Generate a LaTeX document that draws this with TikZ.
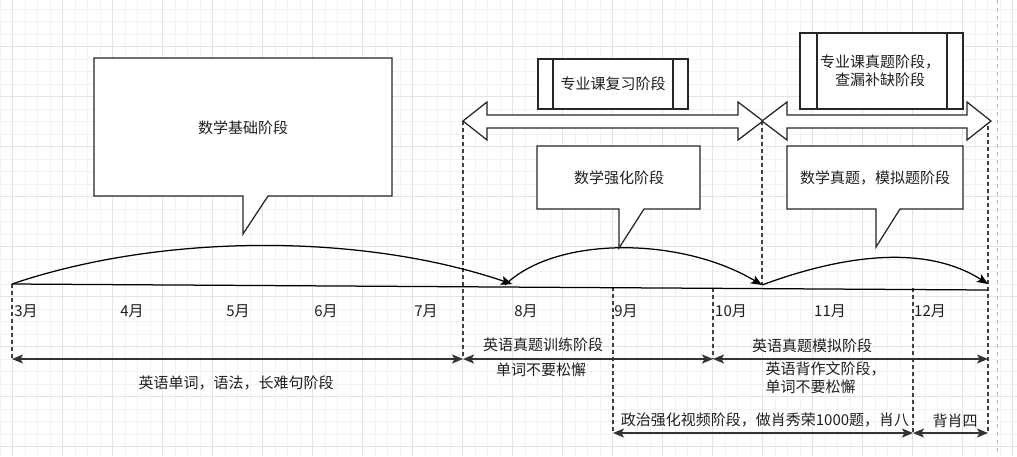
\documentclass[tikz,border=0pt]{standalone}
\usepackage{fontspec}
\setmainfont{Noto Sans CJK SC}
\usetikzlibrary{arrows.meta}
\begin{document}
\begin{tikzpicture}[x=1pt,y=-1pt,line width=1.25pt,
  >={Stealth[length=11pt,width=9pt,inset=2.5pt]},
  every node/.style={inner sep=0pt, font=\fontsize{15}{18}\selectfont, text=black!88},
  gminor/.style={draw=black!5, line width=1pt},
  gmajor/.style={draw=black!11, line width=1pt},
  vdash/.style={draw=black!75, line width=1.25pt, dash pattern=on 4pt off 3pt},
  shapeline/.style={draw=black!85, fill=white, line width=1.25pt},
  axisline/.style={draw=black, line width=1.25pt},
  span/.style={draw=black!80, line width=1.25pt, <->},
  arc/.style={draw=black, line width=1.25pt, ->},
]
\useasboundingbox (0,0) rectangle (1017,456);
% background grid
\fill[white] (0,0) rectangle (1017,456);
\foreach \i in {0,...,81} { \draw[gminor] (\i*12.5,0) -- (\i*12.5,456); }
\foreach \i in {0,...,35} { \draw[gminor] (0,9+\i*12.5) -- (1017,9+\i*12.5); }
\foreach \i in {0,...,20} { \draw[gmajor] (12.5+\i*50,0) -- (12.5+\i*50,456); }
\foreach \i in {0,...,8} { \draw[gmajor] (0,46.5+\i*50) -- (1017,46.5+\i*50); }
\draw[draw=black!25, line width=1pt, dash pattern=on 4pt off 4pt] (997,0) -- (997,456);

% key coordinates
\coordinate (tl0) at (12,284);
\coordinate (tl1) at (988,290);
\coordinate (m3bot) at (12,359);
\coordinate (a8top) at (463,121);
\coordinate (a8bot) at (463,359);
\coordinate (m9top) at (613,287);
\coordinate (m9bot) at (613,433);
\coordinate (m10top) at (713,288);
\coordinate (m10bot) at (713,359);
\coordinate (m11top) at (762,121);
\coordinate (m11bot) at (762,285);
\coordinate (m12top) at (913,288);
\coordinate (m12bot) at (913,433);
\coordinate (endtop) at (988,126);
\coordinate (endmid) at (988,359);
\coordinate (endbot) at (988,433);
\coordinate (arc1e) at (512,284);
\coordinate (arc2s) at (505,285);
\coordinate (arc3e) at (988,284);

% dashed verticals
\draw[vdash] (tl0) -- (m3bot);
\draw[vdash] (a8top) -- (a8bot);
\draw[vdash] (m9top) -- (m9bot);
\draw[vdash] (m10top) -- (m10bot);
\draw[vdash] (m11top) -- (m11bot);
\draw[vdash] (m12top) -- (m12bot);
\draw[vdash] (endtop) -- (endbot);

% timeline
\draw[axisline] (tl0) -- (tl1);

% arcs
\draw[arc] (tl0) .. controls (162,233) and (362,233) .. (arc1e);
\draw[arc] (arc2s) .. controls (555,236) and (680,236) .. (m11bot);
\draw[arc] (m11bot) .. controls (862,248) and (935,250) .. (arc3e);

% callouts
\draw[shapeline] (94,58) -- (392,58) -- (392,196) -- (268,196) -- (243,234) -- (243,196) -- (94,196) -- cycle;
\node (c1) at (243,128) {数学基础阶段};
\draw[shapeline] (537,146) -- (700,146) -- (700,209) -- (644,209) -- (619,248) -- (619,209) -- (537,209) -- cycle;
\node (c2) at (619,178) {数学强化阶段};
\draw[shapeline] (787,146) -- (963,146) -- (963,209) -- (900,209) -- (876,247) -- (876,209) -- (787,209) -- cycle;
\node (c3) at (875,178) {数学真题，模拟题阶段};

% flex arrows
\draw[shapeline] (463,121) -- (487,102) -- (487,115) -- (738,115) -- (738,102) -- (763,121) -- (738,140) -- (738,128) -- (487,128) -- (487,140) -- cycle;
\draw[shapeline] (762,121) -- (787,102) -- (787,115) -- (967,115) -- (967,102) -- (991,121) -- (967,140) -- (967,128) -- (787,128) -- (787,140) -- cycle;

% process boxes
\draw[shapeline] (538,59) rectangle (688,109);
\draw[black!85] (553,59) -- (553,109) (673,59) -- (673,109);
\node (p1) at (613,84) {专业课复习阶段};
\draw[shapeline] (800,33) rectangle (963,109);
\draw[black!85] (817,33) -- (817,109) (947,33) -- (947,109);
\node[align=center] (p2) at (880,71) {专业课真题阶段，\\查漏补缺阶段};

% month labels
\node (l3) at (26,311) {3月};
\node (l4) at (132,311) {4月};
\node (l5) at (238,311) {5月};
\node (l6) at (326,311) {6月};
\node (l7) at (426,311) {7月};
\node (l8) at (526,311) {8月};
\node (l9) at (626,311) {9月};
\node (l10) at (731,311) {10月};
\node (l11) at (830,311) {11月};
\node (l12) at (930,311) {12月};

% english spans
\draw[span] (m3bot) -- (a8bot);
\draw[span] (a8bot) -- (m10bot);
\draw[span] (m10bot) -- (endmid);
\node (e1) at (236,383) {英语单词，语法，长难句阶段};
\node (e2) at (543,345) {英语真题训练阶段};
\node (e2b) at (541,370) {单词不要松懈};
\node (e3) at (812,346) {英语真题模拟阶段};
\node[align=left, anchor=west] (e3b) at (765,378) {英语背作文阶段，\\单词不要松懈};

% politics spans
\draw[span] (m9bot) -- (m12bot);
\draw[span] (m12bot) -- (endbot);
\node (z1) at (765,420) {政治强化视频阶段，做肖秀荣1000题，肖八};
\node (z2) at (955,421) {背肖四};
\end{tikzpicture}
\end{document}
